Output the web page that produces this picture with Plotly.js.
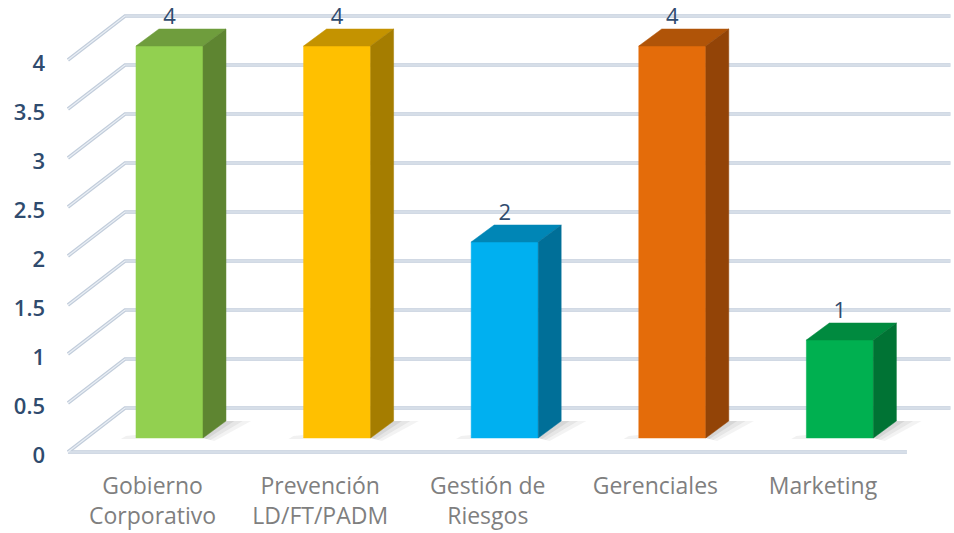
<!DOCTYPE html>
<html>
<head>
<meta charset="utf-8">
<script src="https://cdn.plot.ly/plotly-3.0.1.min.js"></script>
<style>
  html, body { margin: 0; padding: 0; background: #ffffff; }
  #chart { width: 954px; height: 533px; }
</style>
</head>
<body>
<div id="chart"></div>
<script>
// Categories and values
const categories = ['Gobierno<br>Corporativo', 'Prevención<br>LD/FT/PADM', 'Gestión de<br>Riesgos', 'Gerenciales', 'Marketing'];
const values = [4, 4, 2, 4, 1];
const yTickValues = [0, 0.5, 1, 1.5, 2, 2.5, 3, 3.5, 4];
const yTickLabels = ['0', '0.5', '1', '1.5', '2', '2.5', '3', '3.5', '4'];

// Face colours of each 3D column: front, top, side
const frontColors = ['#92d050', '#ffc000', '#00b0f0', '#e46c0a', '#00b050'];
const topColors   = ['#6f9d3d', '#c49300', '#0086b6', '#b05408', '#008a3f'];
const sideColors  = ['#5e8531', '#a57d00', '#006f98', '#934407', '#007334'];

// Oblique projection constants (axis units)
const HALF = 0.2;          // half width of a column
const DX = 0.137;          // column depth, horizontal
const DY = 0.1735;         // column depth, vertical
const WALL_Y = 0.306;      // back wall offset
const FRONT_Y = -0.143;    // front edge of the floor
const X_FRONT = -0.606;    // left end of floor / grid diagonals
const X_WALL = -0.2655;    // left edge of the back wall
const X_RIGHT = 4.66;      // right end of the back wall
const X_FLOOR_END = 4.40;  // right end of the floor front edge
const LABEL_SHIFT = -0.101;
const YLABEL_NUDGE = -0.03;

const traces = [];

// Gridlines: diagonal on the side wall, then across the back wall
const gx = [], gy = [];
yTickValues.forEach(v => {
  gx.push(X_FRONT, X_WALL, X_RIGHT, null);
  gy.push(v + FRONT_Y, v + WALL_Y, v + WALL_Y, null);
});
gx.push(X_FRONT, X_FLOOR_END, null);
gy.push(FRONT_Y, FRONT_Y, null);
traces.push({x: gx, y: gy, mode: 'lines', line: {color: '#c2cddb', width: 3.5}, hoverinfo: 'skip', showlegend: false});
traces.push({x: gx, y: gy, mode: 'lines', line: {color: '#eaeff5', width: 1.2}, hoverinfo: 'skip', showlegend: false});

// Soft floor shadows behind each column (layered for a fading edge)
const shadowLayers = [
  {grow: 0.15, drop: 0.03, alpha: 0.07},
  {grow: 0.10, drop: 0.02, alpha: 0.08},
  {grow: 0.05, drop: 0.01, alpha: 0.10}
];
values.forEach((v, i) => {
  const r = i + HALF;
  shadowLayers.forEach(s => {
    traces.push({
      x: [r, r + DX, r + DX + s.grow, r + s.grow * 0.45, r],
      y: [0, DY, DY, -s.drop, 0],
      mode: 'lines', fill: 'toself', fillcolor: 'rgba(80,80,80,' + s.alpha + ')',
      line: {width: 0, color: 'rgba(0,0,0,0)'}, hoverinfo: 'skip', showlegend: false
    });
  });
  traces.push({
    x: [i - HALF - 0.09, i - HALF, i - HALF, i - HALF - 0.06],
    y: [-0.01, -0.01, 0.03, 0.02],
    mode: 'lines', fill: 'toself', fillcolor: 'rgba(80,80,80,0.08)',
    line: {width: 0, color: 'rgba(0,0,0,0)'}, hoverinfo: 'skip', showlegend: false
  });
});

// Columns: front, top and side faces
values.forEach((v, i) => {
  const l = i - HALF, r = i + HALF;
  traces.push({
    x: [l, r, r, l, l], y: [0, 0, v, v, 0],
    mode: 'lines', fill: 'toself', fillcolor: frontColors[i],
    line: {color: frontColors[i], width: 0.5}, hoverinfo: 'skip', showlegend: false
  });
  traces.push({
    x: [l, r, r + DX, l + DX, l], y: [v, v, v + DY, v + DY, v],
    mode: 'lines', fill: 'toself', fillcolor: topColors[i],
    line: {color: topColors[i], width: 0.5}, hoverinfo: 'skip', showlegend: false
  });
  traces.push({
    x: [r, r + DX, r + DX, r, r], y: [0, DY, v + DY, v, 0],
    mode: 'lines', fill: 'toself', fillcolor: sideColors[i],
    line: {color: sideColors[i], width: 0.5}, hoverinfo: 'skip', showlegend: false
  });
});

// Value labels above each column
traces.push({
  x: values.map((v, i) => i),
  y: values.map(v => v + DY),
  mode: 'text',
  text: values.map(v => String(v)),
  textposition: 'top center',
  textfont: {family: 'Open Sans', size: 22, color: '#2f4b6e'},
  hoverinfo: 'skip', showlegend: false, cliponaxis: false
});

const layout = {
  width: 954, height: 533,
  margin: {l: 50, r: 0, t: 0, b: 78},
  paper_bgcolor: '#ffffff', plot_bgcolor: '#ffffff',
  showlegend: false,
  xaxis: {
    range: [-0.713, 4.6808],
    showgrid: false, zeroline: false, showline: false, ticks: '',
    tickvals: categories.map((c, i) => i + LABEL_SHIFT),
    ticktext: categories,
    ticklabelstandoff: 15,
    tickfont: {family: 'Open Sans', size: 23, color: '#7f7f7f'},
    fixedrange: true
  },
  yaxis: {
    range: [-0.1735, 4.4694],
    showgrid: false, zeroline: false, showline: false, ticks: '',
    tickvals: yTickValues.map(v => v + FRONT_Y + YLABEL_NUDGE),
    ticktext: yTickLabels,
    ticklabelstandoff: 4,
    tickfont: {family: 'Open Sans', size: 22, weight: 600, color: '#2f4b6e'},
    fixedrange: true
  }
};

Plotly.newPlot('chart', traces, layout, {staticPlot: true, displayModeBar: false});
</script>
</body>
</html>
